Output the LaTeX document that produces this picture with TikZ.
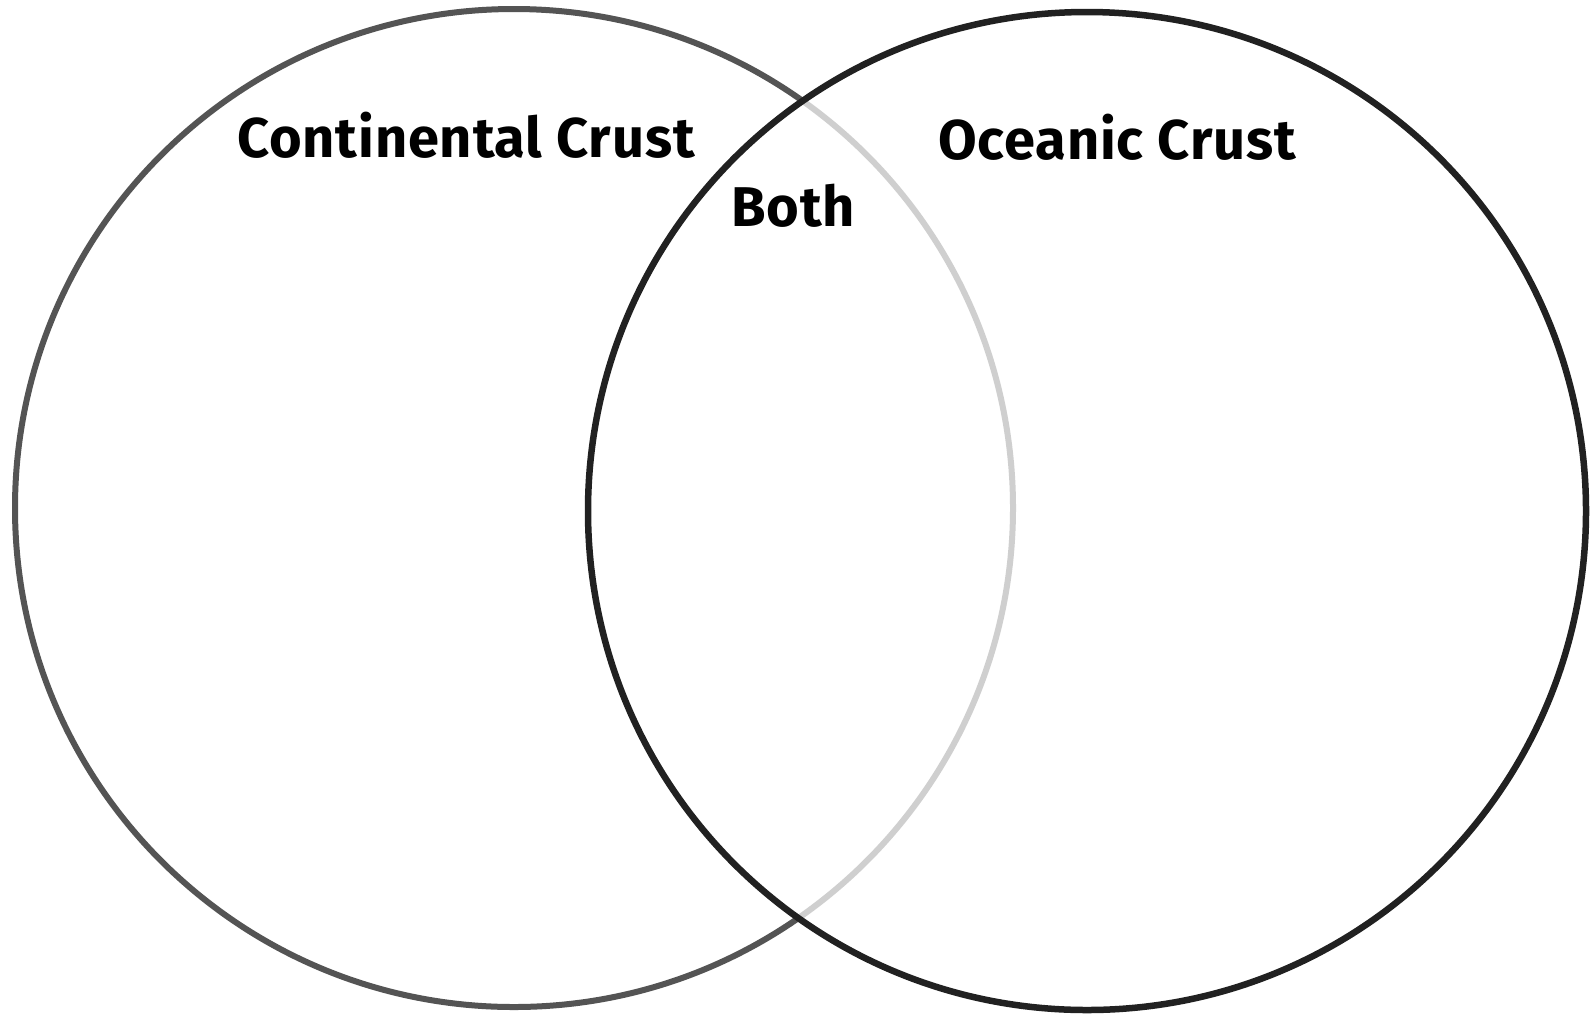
\documentclass[tikz,border=0pt]{standalone}
\usepackage{fontspec}
\setmainfont{Fira Sans}
\begin{document}
\begin{tikzpicture}[x=1pt,y=-1pt,
  ring/.style={circle, inner sep=0pt, outer sep=0pt, minimum size=998pt},
  lbl/.style={font=\fontsize{56}{60}\selectfont\bfseries\addfontfeatures{LetterSpace=1.5}, text=black, inner sep=0pt, anchor=center}]
  \fill[white] (0,0) rectangle (1594,1013);
  \useasboundingbox (0,0) rectangle (1594,1013);
  \node[ring, draw=black!67, line width=6pt] (L) at (514,508) {};
  \node[ring, fill=white, fill opacity=0.72] (Rf) at (1087,511) {};
  \node[ring, draw=black!87, line width=6.5pt] (R) at (1087,511) {};
  \node[lbl] (cc) at (466,135) {Continental Crust};
  \node[lbl] (oc) at (1117,137) {Oceanic Crust};
  \node[lbl] (both) at (793,206) {Both};
\end{tikzpicture}
\end{document}
